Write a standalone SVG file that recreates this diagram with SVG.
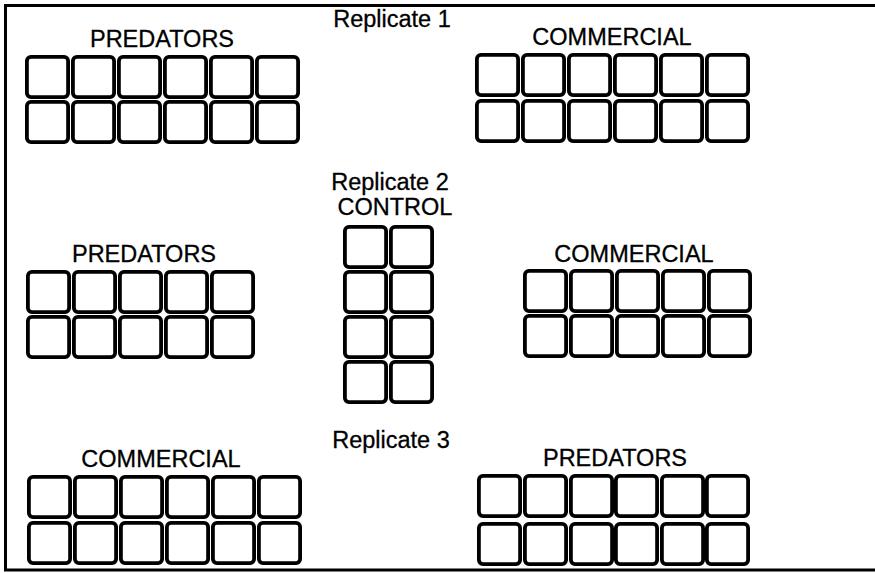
<svg xmlns="http://www.w3.org/2000/svg" width="875" height="573" viewBox="0 0 875 573">
<defs>
<style>
.b{fill:#fff;stroke:#000;stroke-width:3.8}
.t{font-family:"Liberation Sans",Arial,sans-serif;font-size:23.5px;fill:#000;stroke:#000;stroke-width:0.3;text-anchor:middle}
.f{fill:none;stroke:#000;stroke-width:3}
</style>
<rect id="c" x="1.9" y="1.9" width="41.2" height="40.2" rx="4" class="b"/>
</defs>
<rect width="875" height="573" fill="#fff"/>
<g id="frame">
<path class="f" d="M875 5.5H5.5V570H875"/>
</g>
<g id="rep1-labels">
<text class="t" x="392" y="27">Replicate 1</text>
</g>
<g id="rep1-predators">
<text class="t" x="162" y="47">PREDATORS</text>
<use href="#c" x="25" y="55"/><use href="#c" x="71" y="55"/><use href="#c" x="117" y="55"/><use href="#c" x="163" y="55"/><use href="#c" x="209" y="55"/><use href="#c" x="255" y="55"/>
<use href="#c" x="25" y="100"/><use href="#c" x="71" y="100"/><use href="#c" x="117" y="100"/><use href="#c" x="163" y="100"/><use href="#c" x="209" y="100"/><use href="#c" x="255" y="100"/>
</g>
<g id="rep1-commercial">
<text class="t" x="612" y="45">COMMERCIAL</text>
<use href="#c" x="475" y="53"/><use href="#c" x="521" y="53"/><use href="#c" x="567" y="53"/><use href="#c" x="613" y="53"/><use href="#c" x="659" y="53"/><use href="#c" x="705" y="53"/>
<use href="#c" x="475" y="99"/><use href="#c" x="521" y="99"/><use href="#c" x="567" y="99"/><use href="#c" x="613" y="99"/><use href="#c" x="659" y="99"/><use href="#c" x="705" y="99"/>
</g>
<g id="rep2-labels">
<text class="t" x="390" y="190">Replicate 2</text>
</g>
<g id="rep2-control">
<text class="t" x="395" y="215">CONTROL</text>
<use href="#c" x="343" y="225"/><use href="#c" x="389" y="225"/>
<use href="#c" x="343" y="270"/><use href="#c" x="389" y="270"/>
<use href="#c" x="343" y="315"/><use href="#c" x="389" y="315"/>
<use href="#c" x="343" y="360"/><use href="#c" x="389" y="360"/>
</g>
<g id="rep2-predators">
<text class="t" x="144" y="262">PREDATORS</text>
<use href="#c" x="26" y="270"/><use href="#c" x="72" y="270"/><use href="#c" x="118" y="270"/><use href="#c" x="164" y="270"/><use href="#c" x="210" y="270"/>
<use href="#c" x="26" y="315"/><use href="#c" x="72" y="315"/><use href="#c" x="118" y="315"/><use href="#c" x="164" y="315"/><use href="#c" x="210" y="315"/>
</g>
<g id="rep2-commercial">
<text class="t" x="634" y="262">COMMERCIAL</text>
<use href="#c" x="523" y="269"/><use href="#c" x="569" y="269"/><use href="#c" x="615" y="269"/><use href="#c" x="661" y="269"/><use href="#c" x="707" y="269"/>
<use href="#c" x="523" y="314"/><use href="#c" x="569" y="314"/><use href="#c" x="615" y="314"/><use href="#c" x="661" y="314"/><use href="#c" x="707" y="314"/>
</g>
<g id="rep3-labels">
<text class="t" x="391" y="448">Replicate 3</text>
</g>
<g id="rep3-commercial">
<text class="t" x="161" y="467">COMMERCIAL</text>
<use href="#c" x="27" y="475"/><use href="#c" x="73" y="475"/><use href="#c" x="119" y="475"/><use href="#c" x="165" y="475"/><use href="#c" x="211" y="475"/><use href="#c" x="257" y="475"/>
<use href="#c" x="27" y="521"/><use href="#c" x="73" y="521"/><use href="#c" x="119" y="521"/><use href="#c" x="165" y="521"/><use href="#c" x="211" y="521"/><use href="#c" x="257" y="521"/>
</g>
<g id="rep3-predators">
<text class="t" x="615" y="466">PREDATORS</text>
<use href="#c" x="477" y="474"/><use href="#c" x="523" y="474"/><use href="#c" x="569" y="474"/><use href="#c" x="614" y="474"/><use href="#c" x="660" y="474"/><use href="#c" x="705" y="474"/>
<use href="#c" x="477" y="522"/><use href="#c" x="523" y="522"/><use href="#c" x="569" y="522"/><use href="#c" x="614" y="522"/><use href="#c" x="660" y="522"/><use href="#c" x="705" y="522"/>
</g>
</svg>
